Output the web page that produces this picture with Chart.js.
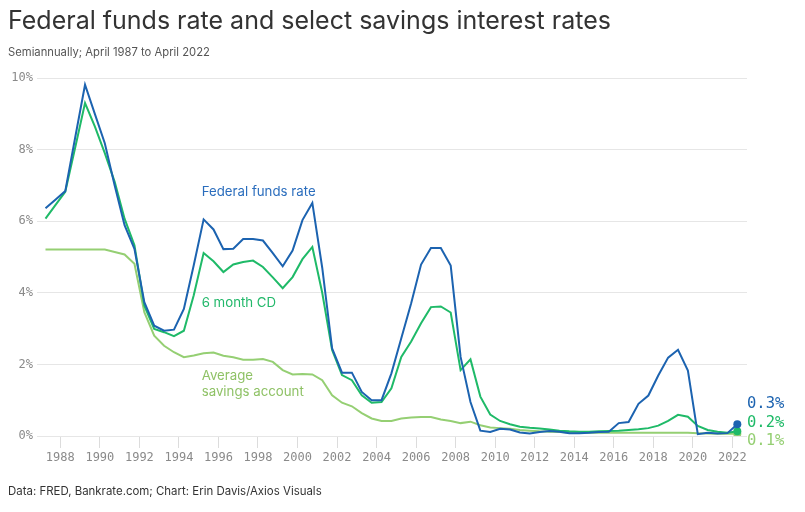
<!DOCTYPE html>
<html>
<head>
<meta charset="utf-8">
<script src="https://cdn.jsdelivr.net/npm/chart.js@4.4.0/dist/chart.umd.min.js"></script>
<style>
  html, body { margin: 0; padding: 0; background: #fff; }
  #wrap { position: relative; width: 805px; height: 512px; }
</style>
</head>
<body>
<div id="wrap"><canvas id="rates_chart" width="805" height="512"></canvas></div>
<script>
// semiannual periods, April 1987 to April 2022
const periods = [
  "1987-04","1987-10","1988-04","1988-10","1989-04","1989-10","1990-04","1990-10",
  "1991-04","1991-10","1992-04","1992-10","1993-04","1993-10","1994-04","1994-10",
  "1995-04","1995-10","1996-04","1996-10","1997-04","1997-10","1998-04","1998-10",
  "1999-04","1999-10","2000-04","2000-10","2001-04","2001-10","2002-04","2002-10",
  "2003-04","2003-10","2004-04","2004-10","2005-04","2005-10","2006-04","2006-10",
  "2007-04","2007-10","2008-04","2008-10","2009-04","2009-10","2010-04","2010-10",
  "2011-04","2011-10","2012-04","2012-10","2013-04","2013-10","2014-04","2014-10",
  "2015-04","2015-10","2016-04","2016-10","2017-04","2017-10","2018-04","2018-10",
  "2019-04","2019-10","2020-04","2020-10","2021-04","2021-10","2022-04"
];

const fed_funds_rate = [
  6.36, 6.60, 6.84, 8.33, 9.81, 8.99, 8.18, 7.00,
  5.89, 5.23, 3.74, 3.08, 2.94, 2.97, 3.55, 4.77,
  6.05, 5.77, 5.22, 5.23, 5.50, 5.50, 5.46, 5.11,
  4.74, 5.18, 6.03, 6.51, 4.70, 2.45, 1.77, 1.77,
  1.23, 1.00, 1.00, 1.75, 2.73, 3.71, 4.79, 5.25,
  5.25, 4.76, 2.21, 0.95, 0.15, 0.11, 0.20, 0.18,
  0.10, 0.07, 0.11, 0.14, 0.12, 0.08, 0.08, 0.09,
  0.11, 0.12, 0.36, 0.39, 0.90, 1.13, 1.69, 2.19,
  2.41, 1.83, 0.05, 0.09, 0.07, 0.08, 0.33
];

const six_month_cd = [
  6.07, 6.45, 6.82, 8.05, 9.30, 8.64, 7.90, 7.10,
  6.07, 5.33, 3.64, 2.99, 2.90, 2.79, 2.94, 3.93,
  5.11, 4.88, 4.58, 4.79, 4.86, 4.90, 4.72, 4.43,
  4.13, 4.44, 4.94, 5.28, 4.00, 2.40, 1.70, 1.56,
  1.14, 0.93, 0.95, 1.33, 2.21, 2.64, 3.15, 3.60,
  3.62, 3.45, 1.84, 2.14, 1.10, 0.60, 0.42, 0.33,
  0.26, 0.23, 0.21, 0.18, 0.15, 0.13, 0.12, 0.12,
  0.13, 0.14, 0.15, 0.17, 0.19, 0.22, 0.29, 0.42,
  0.59, 0.54, 0.28, 0.17, 0.12, 0.09, 0.13
];

const avg_savings = [
  5.21, 5.21, 5.21, 5.21, 5.21, 5.21, 5.21, 5.14,
  5.07, 4.81, 3.46, 2.80, 2.52, 2.34, 2.20, 2.25,
  2.31, 2.33, 2.24, 2.20, 2.13, 2.13, 2.15, 2.07,
  1.84, 1.72, 1.73, 1.72, 1.56, 1.14, 0.93, 0.83,
  0.64, 0.49, 0.42, 0.42, 0.49, 0.52, 0.53, 0.53,
  0.46, 0.42, 0.36, 0.40, 0.30, 0.24, 0.22, 0.20,
  0.17, 0.15, 0.13, 0.12, 0.11, 0.10, 0.09, 0.09,
  0.09, 0.09, 0.09, 0.09, 0.09, 0.09, 0.09, 0.09,
  0.09, 0.09, 0.08, 0.07, 0.06, 0.06, 0.06
];

const year_ticks = [1988, 1990, 1992, 1994, 1996, 1998, 2000, 2002, 2004, 2006,
                    2008, 2010, 2012, 2014, 2016, 2018, 2020, 2022];
const end_labels = ["0.3%", "0.2%", "0.1%"];

const BLUE = "#1c63b0";
const GREEN = "#1fba68";
const LIGHT = "#95cf73";
const MONO = "'DejaVu Sans Mono', 'Liberation Mono', monospace";
const SANS = "Inter, 'Noto Sans', sans-serif";

function toYear(p) {
  const parts = p.split("-");
  return Number(parts[0]) + (Number(parts[1]) - 1) / 12;
}

function points(values) {
  return values.map((v, i) => ({ x: toYear(periods[i]), y: v }));
}

const last = periods.length - 1;
const endDot = ctx => ctx.dataIndex === last ? 4 : 0;

function fitFont(ctx, text, weight, family, width, size) {
  ctx.font = weight + " " + size + "px " + family;
  const w = ctx.measureText(text).width;
  const s = size * width / w;
  return weight + " " + s.toFixed(2) + "px " + family;
}

const textPlugin = {
  id: "texts",
  afterDraw(chart) {
    const ctx = chart.ctx;
    const xs = chart.scales.x;
    const ys = chart.scales.y;
    ctx.save();
    ctx.textBaseline = "middle";
    ctx.textAlign = "left";

    // title block
    const title = "Federal funds rate and select savings interest rates";
    ctx.font = fitFont(ctx, title, "400", SANS, 603, 24);
    ctx.fillStyle = "#333";
    ctx.fillText(title, 8, 21);

    const sub = "Semiannually; April 1987 to April 2022";
    ctx.font = fitFont(ctx, sub, "400", SANS, 202, 12);
    ctx.fillStyle = "#555";
    ctx.fillText(sub, 8, 53);

    const foot = "Data: FRED, Bankrate.com; Chart: Erin Davis/Axios Visuals";
    ctx.font = fitFont(ctx, foot, "400", SANS, 314, 12);
    ctx.fillStyle = "#333";
    ctx.fillText(foot, 8, 492);

    // series annotations
    const lx = xs.getPixelForValue(1995.15);
    ctx.font = fitFont(ctx, "Federal funds rate", "400", SANS, 114, 13);
    ctx.fillStyle = "#2a6dbd";
    ctx.fillText("Federal funds rate", lx, ys.getPixelForValue(6.81));
    ctx.fillStyle = "#22b86a";
    ctx.fillText("6 month CD", lx, ys.getPixelForValue(3.71));
    ctx.fillStyle = "#8fc266";
    ctx.fillText("Average", lx, ys.getPixelForValue(1.68));
    ctx.fillText("savings account", lx, ys.getPixelForValue(1.24));

    // end value labels
    ctx.font = "400 15.5px " + MONO;
    const ex = chart.chartArea.right;
    const base = ys.getPixelForValue(0);
    const colors = [BLUE, GREEN, LIGHT];
    const offs = [-32.5, -13.5, 4.5];
    end_labels.forEach((t, i) => {
      ctx.fillStyle = colors[i];
      ctx.fillText(t, ex, base + offs[i]);
    });
    ctx.restore();
  }
};

new Chart("rates_chart",
{
    type: "line",
    data:
    {
        datasets:
        [
            {
                label: "Federal funds rate",
                data: points(fed_funds_rate),
                borderColor: BLUE,
                backgroundColor: BLUE,
                borderWidth: 2,
                pointRadius: endDot,
                pointBorderWidth: 0,
                tension: 0,
                fill: false
            },
            {
                label: "6 month CD",
                data: points(six_month_cd),
                borderColor: GREEN,
                backgroundColor: GREEN,
                borderWidth: 2,
                pointRadius: endDot,
                pointBorderWidth: 0,
                tension: 0,
                fill: false
            },
            {
                label: "Average savings account",
                data: points(avg_savings),
                borderColor: LIGHT,
                backgroundColor: LIGHT,
                borderWidth: 2,
                pointRadius: endDot,
                pointBorderWidth: 0,
                tension: 0,
                fill: false
            }
        ]
    },
    options:
    {
        animation: false,
        responsive: false,
        devicePixelRatio: 1,
        layout: { padding: { left: 0, right: 58, top: 78, bottom: 40 } },
        plugins:
        {
            legend: { display: false },
            title: { display: false },
            tooltip: { enabled: false }
        },
        scales:
        {
            x:
            {
                type: "linear",
                min: 1986.82,
                max: 2022.74,
                afterBuildTicks: axis => { axis.ticks = year_ticks.map(v => ({ value: v })); },
                afterFit: axis => { axis.height = 36; },
                border: { display: false },
                grid:
                {
                    drawOnChartArea: false,
                    drawTicks: true,
                    tickLength: 12,
                    color: "#dcdcdc"
                },
                ticks:
                {
                    autoSkip: false,
                    maxRotation: 0,
                    padding: 3,
                    color: "#8a8a8a",
                    font: { family: MONO, size: 12 },
                    callback: v => String(v)
                }
            },
            y:
            {
                min: 0,
                max: 10,
                afterFit: axis => { axis.width = 37; },
                border: { display: false },
                grid:
                {
                    color: "#e6e6e6",
                    drawTicks: false
                },
                ticks:
                {
                    stepSize: 2,
                    padding: 4,
                    color: "#8a8a8a",
                    font: { family: MONO, size: 12 },
                    callback: v => v + "%"
                }
            }
        }
    },
    plugins: [textPlugin]
});
</script>
</body>
</html>
